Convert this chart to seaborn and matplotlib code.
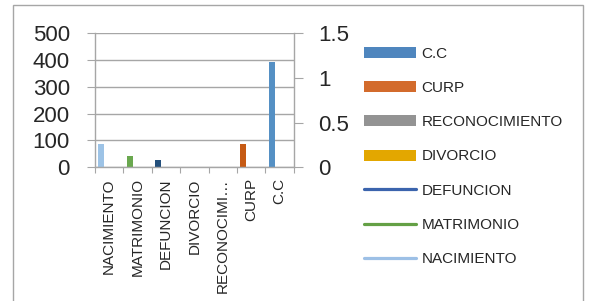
import pandas as pd
import numpy as np
import seaborn as sns
import matplotlib.pyplot as plt
import matplotlib.patches as mpatches
from matplotlib.lines import Line2D

tramites = ["NACIMIENTO", "MATRIMONIO", "DEFUNCION", "DIVORCIO", "RECONOCIMIENTO", "CURP", "C.C"]
etiquetas = ["NACIMIENTO", "MATRIMONIO", "DEFUNCION", "DIVORCIO", "RECONOCIMI…", "CURP", "C.C"]
cantidades = [88, 40, 28, 0, 0, 88, 392]
colores_barra = ["#9DC3E6", "#6AA84F", "#24507C", "#E3A700", "#939393", "#C65A14", "#5590C4"]
colores_leyenda = ["#9DC0E6", "#64A045", "#3B64AD", "#E3A700", "#939393", "#D36B2C", "#4F86BE"]
tipo_leyenda = ["linea", "linea", "linea", "barra", "barra", "barra", "barra"]
ticks_izq = [0, 100, 200, 300, 400, 500]
ticks_der = [0, 0.5, 1, 1.5]
ticks_der_txt = ["0", "0.5", "1", "1.5"]

gris = "#A6A6A6"
ancho = 0.21
desplazamiento = -0.28  # bars sit left of the category centre, as in the original

sns.set_theme(style="white")
plt.rcParams["font.family"] = ["Liberation Sans", "DejaVu Sans"]

data = pd.DataFrame({"tramite": tramites, "cantidad": cantidades})

fig, ax = plt.subplots(figsize=(5.9, 3.01), dpi=100)
fig.subplots_adjust(left=0.161, right=0.498, top=0.889, bottom=0.445)

sns.barplot(data, x="tramite", y="cantidad", hue="tramite", order=tramites,
            hue_order=tramites, palette=colores_barra, width=ancho,
            errorbar=None, saturation=1, legend=False, ax=ax)
for barra in ax.patches:
    barra.set_x(barra.get_x() + desplazamiento)
    barra.set_edgecolor("none")

ax.set_xlim(-0.5, len(tramites) - 0.5)
ax.set_ylim(0, 500)
ax.set_yticks(ticks_izq)
ax.tick_params(axis="y", labelsize=16, length=6, width=0.8, color=gris, pad=12, left=True)
ax.set_xticks(np.arange(-0.5, len(tramites)), [""] * (len(tramites) + 1))
ax.set_xticks(range(len(tramites)), etiquetas, minor=True)
ax.tick_params(axis="x", which="major", length=4.5, width=0.8, color=gris, bottom=True)
ax.tick_params(axis="x", which="minor", length=0, labelsize=11, rotation=90, pad=8)
ax.set_xlabel("")
ax.set_ylabel("")
ax.yaxis.grid(True, color=gris, linewidth=1)
ax.set_axisbelow(True)
for lado in ["top", "right"]:
    ax.spines[lado].set_visible(False)
for lado in ["left", "bottom"]:
    ax.spines[lado].set_color(gris)
    ax.spines[lado].set_linewidth(1)

ax2 = ax.twinx()
ax2.set_ylim(0, 1.5)
ax2.set_yticks(ticks_der, ticks_der_txt)
ax2.tick_params(axis="y", labelsize=16, length=6.5, width=0.8, color=gris, pad=11, right=True)
ax2.grid(False)
for lado in ["top", "left", "bottom"]:
    ax2.spines[lado].set_visible(False)
ax2.spines["right"].set_color(gris)
ax2.spines["right"].set_linewidth(1)

handles = []
for color, tipo in zip(colores_leyenda, tipo_leyenda):
    if tipo == "barra":
        handles.append(mpatches.Patch(facecolor=color, edgecolor="none"))
    else:
        handles.append(Line2D([0], [0], color=color, linewidth=2.3, solid_capstyle="round"))
fig.legend(handles[::-1], tramites[::-1], loc="center left",
           bbox_to_anchor=(364 / 590, 1 - 156.5 / 301), frameon=False, fontsize=11,
           handlelength=3.4, handletextpad=0.35, labelspacing=1.33,
           borderpad=0, borderaxespad=0)

fig.patches.append(mpatches.Rectangle((13 / 590, -0.02), 570 / 590, 1.02 - 5 / 301,
                                      transform=fig.transFigure, fill=False,
                                      edgecolor=gris, linewidth=1))

fig.savefig("out.png", dpi=100, facecolor="white")
